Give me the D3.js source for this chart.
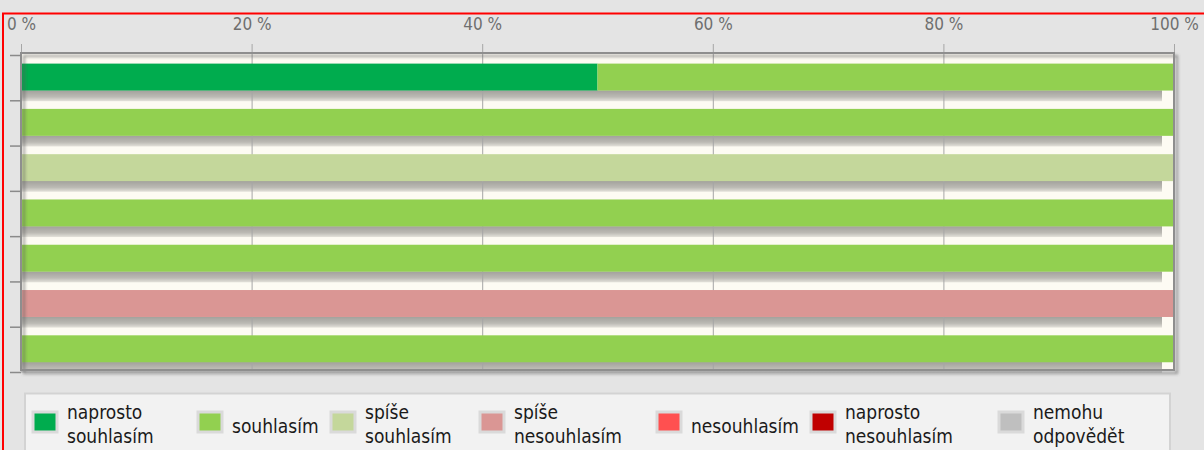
<!DOCTYPE html>
<html>
<head>
<meta charset="utf-8">
<script src="https://cdn.jsdelivr.net/npm/d3@7"></script>
<style>
  body { margin: 0; background: #e4e4e4; }
  svg { display: block; }
</style>
</head>
<body>
<div id="chart"></div>
<script>
// rows (questions have no labels in the chart)
const questions = ['q1', 'q2', 'q3', 'q4', 'q5', 'q6', 'q7'];

// answer categories, legend text and colours
const categories = ['naprosto souhlasím', 'souhlasím', 'spíše souhlasím', 'spíše nesouhlasím', 'nesouhlasím', 'naprosto nesouhlasím', 'nemohu odpovědět'];
const legendLines = [['naprosto', 'souhlasím'], ['souhlasím'], ['spíše', 'souhlasím'], ['spíše', 'nesouhlasím'], ['nesouhlasím'], ['naprosto', 'nesouhlasím'], ['nemohu', 'odpovědět']];
const colors = ['#00ac4e', '#92d050', '#c4d79b', '#da9694', '#ff5050', '#c00000', '#bfbfbf'];

// percentages per question, one array per category
const naprostoSouhlasim   = [50, 0, 0, 0, 0, 0, 0];
const souhlasim           = [50, 100, 0, 100, 100, 0, 100];
const spiseSouhlasim      = [0, 0, 100, 0, 0, 0, 0];
const spiseNesouhlasim    = [0, 0, 0, 0, 0, 100, 0];
const nesouhlasim         = [0, 0, 0, 0, 0, 0, 0];
const naprostoNesouhlasim = [0, 0, 0, 0, 0, 0, 0];
const nemohuOdpovedet     = [0, 0, 0, 0, 0, 0, 0];

const xTicks = [0, 20, 40, 60, 80, 100];

// legend column starts (layout)
const legendCols = [32, 197, 330, 479, 656, 810, 998];

const seriesValues = [naprostoSouhlasim, souhlasim, spiseSouhlasim, spiseNesouhlasim, nesouhlasim, naprostoNesouhlasim, nemohuOdpovedet];

const table = questions.map((q, i) => {
  const row = { q };
  categories.forEach((c, j) => { row[c] = seriesValues[j][i]; });
  return row;
});

const width = 1204;
const height = 450;
const plot = { left: 21, right: 1174, top: 53, bottom: 370 };
const font = '"DejaVu Sans Condensed", "Liberation Sans Narrow", "DejaVu Sans", sans-serif';

const x = d3.scaleLinear().domain([0, 100]).range([plot.left, plot.right]);
const y = d3.scaleBand().domain(questions).range([55, 372]);
const yEdge = d3.scaleLinear().domain([0, questions.length]).range([55, 372]);

const stacked = d3.stack().keys(categories)(table);
const color = d3.scaleOrdinal().domain(categories).range(colors);

const svg = d3.select('#chart')
  .append('svg')
  .attr('width', width)
  .attr('height', height);

const defs = svg.append('defs');
const grad = defs.append('linearGradient')
  .attr('id', 'barShadow')
  .attr('x1', 0).attr('y1', 0).attr('x2', 0).attr('y2', 1);
grad.append('stop').attr('offset', '0%').attr('stop-color', '#000').attr('stop-opacity', 0.36);
grad.append('stop').attr('offset', '60%').attr('stop-color', '#000').attr('stop-opacity', 0.26);
grad.append('stop').attr('offset', '100%').attr('stop-color', '#000').attr('stop-opacity', 0.1);

defs.append('filter')
  .attr('id', 'frameShadow')
  .attr('x', '-5%').attr('y', '-5%').attr('width', '110%').attr('height', '115%')
  .append('feDropShadow')
  .attr('dx', 3).attr('dy', 3).attr('stdDeviation', 1.5)
  .attr('flood-color', '#555').attr('flood-opacity', 0.6);

svg.append('rect')
  .attr('width', width).attr('height', height)
  .attr('fill', '#e4e4e4');

// red outline
svg.append('path')
  .attr('d', 'M3,' + height + 'V13.5H' + width)
  .attr('fill', 'none')
  .attr('stroke', '#ff0000')
  .attr('stroke-width', 2);

// plot background
svg.append('rect')
  .attr('x', plot.left).attr('y', plot.top)
  .attr('width', plot.right - plot.left)
  .attr('height', plot.bottom - plot.top)
  .attr('fill', '#fdfbf3');

// shadows below the bars
svg.append('g')
  .selectAll('rect')
  .data(questions)
  .join('rect')
  .attr('x', x(0))
  .attr('y', d => y(d) + y.bandwidth() * 0.78)
  .attr('width', x(100) - x(0) - 12)
  .attr('height', y.bandwidth() * 0.24)
  .attr('fill', 'url(#barShadow)');

// grid + top ticks and labels
const grid = svg.append('g')
  .attr('transform', 'translate(0,' + plot.top + ')')
  .call(d3.axisTop(x).tickValues(xTicks).tickSize(9).tickPadding(14).tickFormat(d => d + ' %'));
grid.select('.domain').remove();
grid.selectAll('.tick line')
  .attr('y2', plot.bottom - plot.top)
  .attr('y1', -9)
  .attr('stroke', '#a6a6a6');
grid.selectAll('.tick text')
  .attr('fill', '#6f6f6f')
  .style('font-family', font)
  .style('font-size', '17px');

// bars
svg.append('g')
  .selectAll('g')
  .data(stacked)
  .join('g')
  .attr('fill', d => color(d.key))
  .selectAll('rect')
  .data(d => d.filter(p => p[1] - p[0] > 0))
  .join('rect')
  .attr('x', d => x(d[0]))
  .attr('y', d => y(d.data.q) + y.bandwidth() * 0.19)
  .attr('width', d => x(d[1]) - x(d[0]))
  .attr('height', y.bandwidth() * 0.595);

// frame
svg.append('rect')
  .attr('x', plot.left).attr('y', plot.top)
  .attr('width', plot.right - plot.left)
  .attr('height', plot.bottom - plot.top)
  .attr('fill', 'none')
  .attr('stroke', '#8e8e8e')
  .attr('stroke-width', 2)
  .attr('filter', 'url(#frameShadow)');

// left ticks at band edges
const yAxis = svg.append('g')
  .attr('transform', 'translate(' + plot.left + ',0)')
  .call(d3.axisLeft(yEdge).tickValues(d3.range(questions.length + 1)).tickSize(11).tickFormat(''));
yAxis.select('.domain').remove();
yAxis.selectAll('.tick line')
  .attr('stroke', '#8a8a8a')
  .attr('stroke-width', 1.5);

// legend
svg.append('rect')
  .attr('x', 25).attr('y', 393.5)
  .attr('width', 1145).attr('height', 70)
  .attr('fill', '#f2f2f2')
  .attr('stroke', '#d3d3d3')
  .attr('stroke-width', 2);

const item = svg.append('g')
  .selectAll('g')
  .data(categories)
  .join('g')
  .attr('transform', (d, i) => 'translate(' + legendCols[i] + ',0)');

item.append('rect')
  .attr('x', 1).attr('y', 412)
  .attr('width', 24).attr('height', 20)
  .attr('fill', d => color(d))
  .attr('stroke', '#dadada')
  .attr('stroke-width', 3);

item.append('text')
  .style('font-family', font)
  .style('font-size', '19px')
  .attr('fill', '#1a1a1a')
  .selectAll('tspan')
  .data((d, i) => legendLines[i].map((t, k, a) => ({ t, k, n: a.length })))
  .join('tspan')
  .attr('x', 35)
  .attr('y', d => d.n === 1 ? 433 : 419 + d.k * 24)
  .text(d => d.t);
</script>
</body>
</html>
